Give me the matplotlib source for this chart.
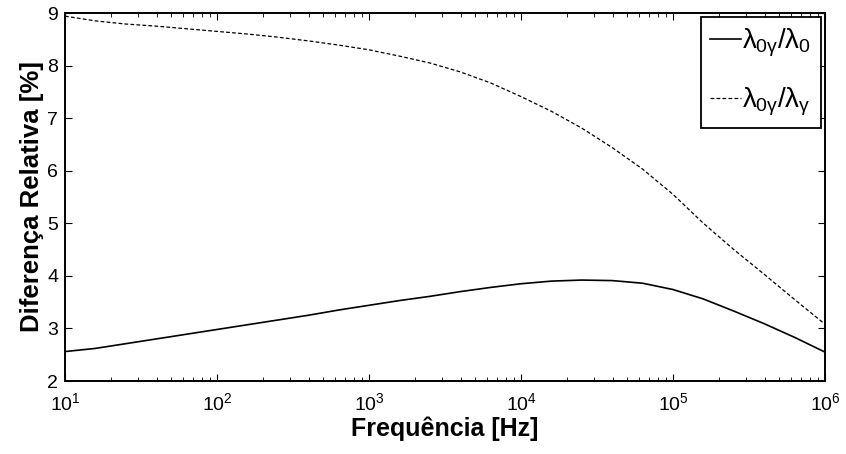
import matplotlib
matplotlib.use("Agg")
import matplotlib.pyplot as plt

plt.rcParams['font.family'] = ['Liberation Sans', 'DejaVu Sans']
plt.rcParams['mathtext.fontset'] = 'custom'
plt.rcParams['mathtext.rm'] = 'Liberation Sans'
plt.rcParams['mathtext.it'] = 'Liberation Sans'
plt.rcParams['mathtext.bf'] = 'Liberation Sans:bold'

# data (log10 of frequency in Hz)
log_freq = [1.0, 1.2, 1.4, 1.6, 1.8, 2.0, 2.2, 2.4, 2.6, 2.8, 3.0, 3.2, 3.4,
            3.6, 3.8, 4.0, 4.2, 4.4, 4.6, 4.8, 5.0, 5.2, 5.4, 5.6, 5.8, 6.0]
ratio_l0 = [2.56, 2.62, 2.71, 2.80, 2.89, 2.98, 3.07, 3.16, 3.25, 3.35, 3.44, 3.53, 3.61,
            3.70, 3.78, 3.85, 3.90, 3.92, 3.91, 3.86, 3.74, 3.56, 3.33, 3.09, 2.83, 2.55]
ratio_lg = [8.94, 8.85, 8.79, 8.75, 8.70, 8.65, 8.60, 8.54, 8.47, 8.39, 8.30, 8.18, 8.05,
            7.88, 7.67, 7.41, 7.13, 6.81, 6.44, 6.03, 5.55, 5.00, 4.50, 4.03, 3.55, 3.08]

labels = [r'$\lambda_{0\gamma}/\lambda_0$', r'$\lambda_{0\gamma}/\lambda_\gamma$']
xlabel = 'Frequência [Hz]'
ylabel = 'Diferença Relativa [%]'

freq = [10 ** v for v in log_freq]

fig = plt.figure(figsize=(8.46, 4.54), dpi=100)
ax = fig.add_axes([65/846, 1 - 381/454, 760/846, 368/454])
ax.plot(freq, ratio_l0, color='black', lw=1.2, label=labels[0])
ax.plot(freq, ratio_lg, color='black', lw=0.9, dashes=(3, 1.8), label=labels[1])
ax.set_xscale('log')
ax.set_xlim(10, 1e6)
ax.set_ylim(2, 9)
ax.set_yticks(range(2, 10))
ax.tick_params(which='both', direction='in', top=True, right=True, labelsize=14)
ax.tick_params(axis='x', which='major', pad=8)
ax.tick_params(axis='y', which='major', pad=5)
ax.tick_params(which='major', length=5)
ax.tick_params(which='minor', length=3)
for s in ax.spines.values():
    s.set_linewidth(1.4)
ax.set_xlabel(xlabel, fontsize=18, fontweight='bold', labelpad=2)
ax.set_ylabel(ylabel, fontsize=18.5, fontweight='bold', labelpad=2)
leg = ax.legend(loc='upper right', fontsize=20, handlelength=1.1, handletextpad=0.05,
                borderpad=0.35, labelspacing=0.95, fancybox=False, framealpha=1,
                edgecolor='black', borderaxespad=0.15)
leg.get_frame().set_linewidth(1.3)
fig.savefig('out.png', dpi=100)
